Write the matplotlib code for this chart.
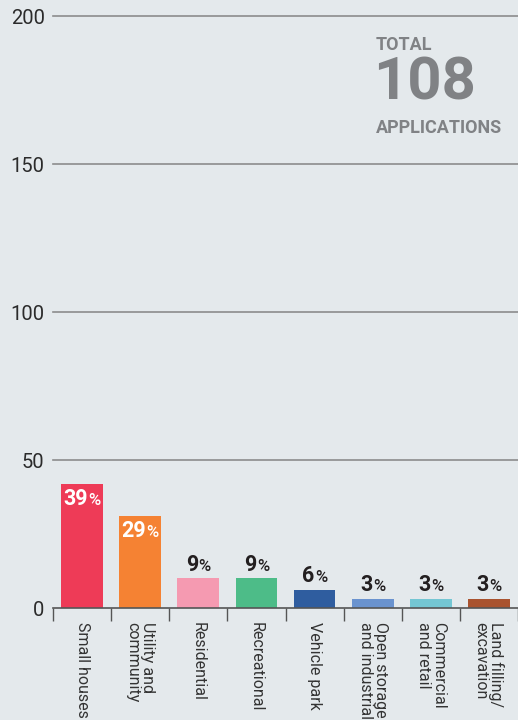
import matplotlib
matplotlib.use('Agg')
import matplotlib.pyplot as plt
import numpy as np
from matplotlib.offsetbox import TextArea, HPacker, AnnotationBbox

# Data
categories = ['Small houses', 'Utility and\ncommunity', 'Residential', 'Recreational',
              'Vehicle park', 'Open storage\nand industrial', 'Commercial\nand retail',
              'Land filling/\nexcavation']
counts = [42, 31, 10, 10, 6, 3, 3, 3]
percents = [39, 29, 9, 9, 6, 3, 3, 3]
total = 108
y_ticks = [0, 50, 100, 150, 200]

colors = ['#EE3B57', '#F58233', '#F59AB1', '#4DBC88', '#2F5D9F', '#6A93CF', '#74C6D3', '#A9532F']
bg = '#E4E9EC'
grey = '#808285'

plt.rcParams['font.family'] = ['Roboto', 'DejaVu Sans']

fig = plt.figure(figsize=(5.18, 7.2), dpi=100, facecolor=bg)
ax = fig.add_axes([53/518, 1 - 608/720, 465/518, 592/720], facecolor=bg)

x = np.arange(len(categories)) + 0.5
ax.bar(x, counts, width=0.72, color=colors, zorder=3)

ax.set_xlim(0, len(categories))
ax.set_ylim(0, 200)

# y axis: grid lines only
ax.set_yticks(y_ticks)
ax.set_yticklabels([str(t) for t in y_ticks], fontsize=14.5, color='#2B2B2B')
ax.tick_params(axis='y', length=0, pad=6)
for t in y_ticks[1:]:
    ax.axhline(t, color='#8C8C8C', lw=1.2, zorder=1, clip_on=False)

# x axis: separator ticks between categories, labels at centres
ax.set_xticks(np.arange(len(categories) + 1))
ax.set_xticklabels([])
ax.tick_params(axis='x', which='major', length=9, width=1, color='#555555', direction='out')
ax.set_xticks(x, minor=True)
ax.set_xticklabels(categories, minor=True, rotation=-90, va='top', ha='center',
                   multialignment='left', linespacing=1.0, fontsize=11.5, color='#333333')
ax.tick_params(axis='x', which='minor', length=0, pad=10)

for s in ['top', 'right', 'left']:
    ax.spines[s].set_visible(False)
ax.spines['bottom'].set_color('#555555')
ax.spines['bottom'].set_linewidth(1.2)
ax.spines['bottom'].set_zorder(4)

# Percent labels
for xi, c, p in zip(x, counts, percents):
    inside = c >= 20
    col = 'white' if inside else '#231F20'
    num = TextArea(str(p), textprops=dict(fontsize=15.5, fontweight='bold', color=col))
    pct = TextArea('%', textprops=dict(fontsize=12, fontweight='medium', color=col))
    box = HPacker(children=[num, pct], align='baseline', pad=0, sep=0.5)
    ab = AnnotationBbox(box, (xi, c), xybox=(0, -3 if inside else 2),
                        xycoords='data', boxcoords='offset points',
                        box_alignment=(0.5, 1 if inside else 0), frameon=False, zorder=5)
    ax.add_artist(ab)

# Total block
fig.text(376/518, 1 - 36/720, 'TOTAL', fontsize=13, fontweight='bold', color=grey, va='top', ha='left')
fig.text(373/518, 1 - 56/720, str(total), fontsize=43, fontweight='bold', color=grey, va='top', ha='left')
fig.text(376/518, 1 - 119/720, 'APPLICATIONS', fontsize=13, fontweight='bold', color=grey, va='top', ha='left')

fig.savefig('out.png', dpi=100, facecolor=bg)
